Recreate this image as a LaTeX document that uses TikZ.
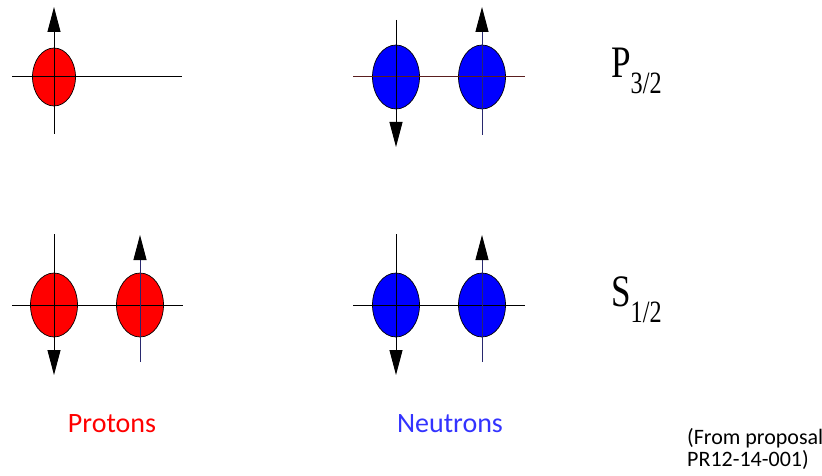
\documentclass[tikz,border=0pt]{standalone}
\usepackage{fontspec}
\setmainfont{Liberation Serif}
\newfontfamily\calibri{Carlito}
\usetikzlibrary{shapes.geometric,arrows.meta}

\definecolor{protonred}{RGB}{255,0,0}
\definecolor{neutronblue}{RGB}{0,0,255}
\definecolor{labelblue}{RGB}{51,51,255}
\definecolor{navyaxis}{RGB}{40,40,110}
\definecolor{brownaxis}{RGB}{90,30,30}

\tikzset{
  particle/.style={ellipse, draw=black, line width=0.7pt, inner sep=0pt,
    minimum width=47pt, minimum height=64pt},
  proton/.style={particle, fill=protonred},
  neutron/.style={particle, fill=neutronblue},
  axis/.style={line width=1pt, black},
  spin/.style={axis, -{Triangle[length=25pt,width=13pt,color=black]}},
  level/.style={anchor=base west, inner sep=0pt},
}

\newcommand{\levelname}[2]{\scalebox{0.78}[1]{{\fontsize{45}{50}\selectfont #1}\raisebox{-16pt}{\fontsize{31}{34}\selectfont #2}}}

\begin{document}
\begin{tikzpicture}[x=1pt, y=-1pt]
    \useasboundingbox (0,0) rectangle (822,476);

    % === P 3/2 level ===
    % Protons: one particle, spin up
    \node[proton, minimum width=43pt, minimum height=58pt] (pa) at (54,77) {};
    \draw[axis] ([xshift=-42pt]pa.center) -- ([xshift=128pt]pa.center);
    \draw[spin] ([yshift=-57pt]pa.center) -- ([yshift=70pt]pa.center);

    % Neutrons: spin down + spin up
    \node[neutron] (na) at (396,77) {};
    \node[neutron] (nb) at (482,77) {};
    \draw[axis, brownaxis] ([xshift=-43pt]na.center) -- ([xshift=43pt]nb.center);
    \draw[spin] ([yshift=57pt]na.center) -- ([yshift=-70pt]na.center);
    \draw[spin, navyaxis] ([yshift=-58pt]nb.center) -- ([yshift=70pt]nb.center);

    \node[level] (p32) at (611,78) {\levelname{P}{3/2}};

    % === S 1/2 level ===
    % Protons: spin down + spin up
    \node[proton] (pb) at (54,305) {};
    \node[proton] (pc) at (140,305) {};
    \draw[axis] ([xshift=-42pt]pb.center) -- ([xshift=43pt]pc.center);
    \draw[spin] ([yshift=71pt]pb.center) -- ([yshift=-70pt]pb.center);
    \draw[spin, navyaxis] ([yshift=-57pt]pc.center) -- ([yshift=70pt]pc.center);

    % Neutrons: spin down + spin up
    \node[neutron] (nc) at (396,305) {};
    \node[neutron] (nd) at (482,305) {};
    \draw[axis] ([xshift=-43pt]nc.center) -- ([xshift=43pt]nd.center);
    \draw[spin] ([yshift=71pt]nc.center) -- ([yshift=-70pt]nc.center);
    \draw[spin, navyaxis] ([yshift=-57pt]nd.center) -- ([yshift=70pt]nd.center);

    \node[level] (s12) at (611,306) {\levelname{S}{1/2}};

    % === Labels ===
    \node[anchor=base, inner sep=0pt, text=protonred, font=\calibri\fontsize{28}{30}\selectfont] (plabel) at (112,432) {Protons};
    \node[anchor=base, inner sep=0pt, text=labelblue, font=\calibri\fontsize{28}{30}\selectfont] (nlabel) at (450,432) {Neutrons};
    \node[anchor=north west, inner sep=0pt, align=left, font=\calibri\fontsize{22}{22}\selectfont] (source) at (687,428) {(From proposal\\PR12-14-001)};
\end{tikzpicture}
\end{document}
